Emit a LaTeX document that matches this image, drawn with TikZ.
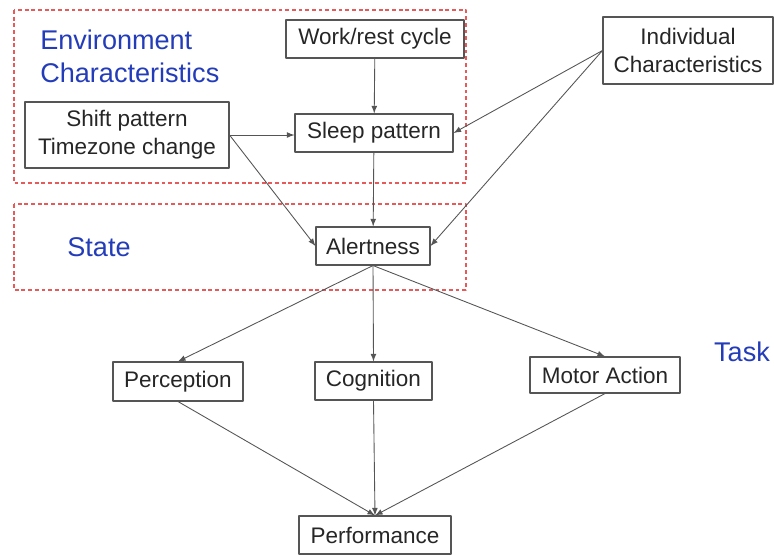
\documentclass[tikz,border=0pt]{standalone}
\usepackage{fontspec}
\setmainfont{Liberation Sans}
\definecolor{boxline}{RGB}{85,85,85}
\definecolor{grpred}{RGB}{232,90,90}
\definecolor{grpblue}{RGB}{35,60,185}
\tikzset{
  box/.style={draw=boxline,line width=0.6pt,inner sep=0pt,align=center,
    font=\fontsize{12.8}{16}\selectfont,text=black!85},
  grp/.style={draw=grpred,line width=0.6pt,dash pattern=on 2.2pt off 1.6pt},
  grplabel/.style={text=grpblue,inner sep=0pt,align=left,font=\fontsize{15.4}{18.8}\selectfont},
  link/.style={->,draw=boxline,line width=0.5pt}
}
\begin{document}
\begin{tikzpicture}[>=latex,line join=round]
\useasboundingbox (0,0) rectangle (15.48,-11.10);
% groups
\draw[grp] (0.28,-0.20) rectangle (9.32,-3.66);
\draw[grp] (0.28,-4.08) rectangle (9.32,-5.80);
\node[grplabel,anchor=west] (envlbl) at (0.80,-1.13) {Environment\\Characteristics};
\node[grplabel] (statelbl) at (1.98,-4.94) {State};
\node[grplabel] (tasklbl) at (14.84,-7.04) {Task};
% boxes
\node[box,minimum width=3.56cm,minimum height=0.76cm] (work) at (7.50,-0.78) {Work/rest cycle};
\node[box,minimum width=3.16cm,minimum height=0.76cm] (sleep) at (7.48,-2.66) {Sleep pattern};
\node[box,minimum width=4.08cm,minimum height=1.32cm] (shift) at (2.54,-2.70) {Shift pattern\\Timezone change};
\node[box,minimum width=3.40cm,minimum height=1.34cm] (indiv) at (13.76,-1.01) {Individual\\Characteristics};
\node[box,minimum width=2.28cm,minimum height=0.76cm] (alert) at (7.46,-4.92) {Alertness};
\node[box,minimum width=2.60cm,minimum height=0.78cm] (percep) at (3.56,-7.63) {Perception};
\node[box,minimum width=2.34cm,minimum height=0.76cm] (cogn) at (7.47,-7.62) {Cognition};
\node[box,minimum width=3.00cm,minimum height=0.72cm] (motor) at (12.10,-7.50) {Motor Action};
\node[box,minimum width=3.04cm,minimum height=0.76cm] (perf) at (7.50,-10.70) {Performance};
% links
\draw[link] (work) -- (sleep);
\draw[link] (shift.east) -- (sleep.west |- shift.east);
\draw[link] (indiv.west) -- (sleep.east);
\draw[link] (indiv.west) -- (alert.east);
\draw[link] (shift.east) -- (alert.west);
\draw[link] (sleep) -- (alert);
\foreach \t in {percep,cogn,motor}
  \draw[link] (alert.south) -- (\t.north);
\foreach \s in {percep,cogn,motor}
  \draw[link] (\s.south) -- (perf.north);
\end{tikzpicture}
\end{document}
